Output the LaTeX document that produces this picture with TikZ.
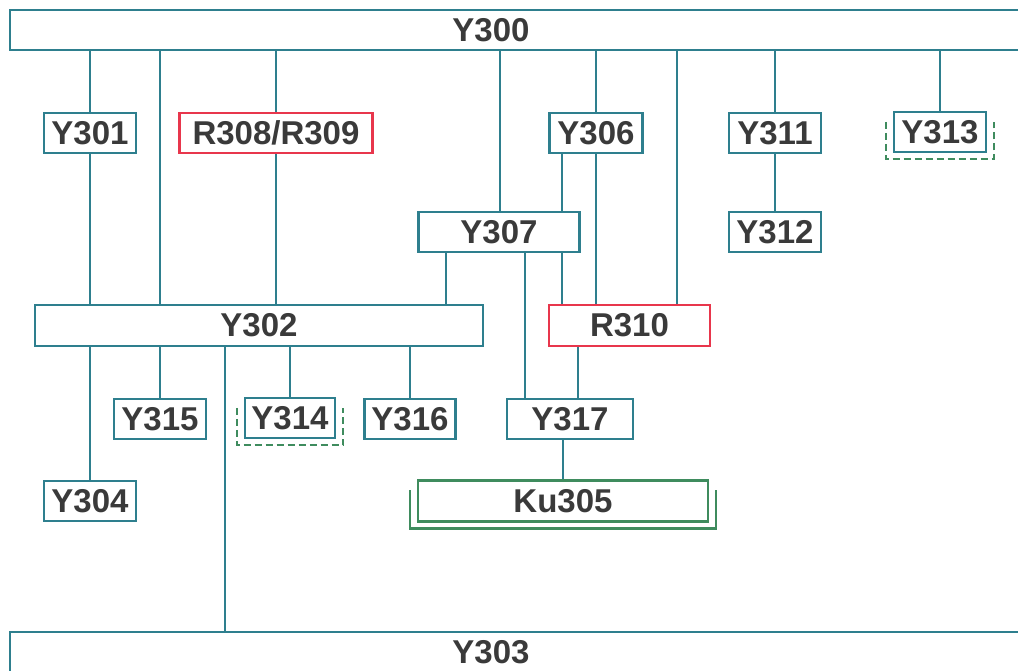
\documentclass[tikz,border=0pt]{standalone}
\usepackage{fontspec}
\setmainfont{Liberation Sans}
\usepackage{xcolor}
\usepackage{tikz}

\definecolor{linkc}{HTML}{2E7F8E}
\definecolor{redc}{HTML}{E8364C}
\definecolor{greenc}{HTML}{3F8C5E}
\definecolor{txtc}{HTML}{3A3A3A}

\newcommand{\boxfont}{\fontsize{33}{39}\selectfont\bfseries}
% green bracket under a box: #1 = extra style, #2 = node name
\newcommand{\underbracket}[2]{%
  \draw[frame, #1] ([shift={(-7,11)}]#2.north west) |- ([shift={(0,6)}]#2.south)
                   -| ([shift={(7,11)}]#2.north east);}

\begin{document}
\begin{tikzpicture}[
    x=1pt, y=-1pt,
    box/.style={draw=linkc, line width=2.2pt, fill=white, inner sep=0pt,
                minimum width=92pt, minimum height=40pt,
                font=\boxfont, text=txtc},
    redbox/.style={box, draw=redc},
    greenbox/.style={box, draw=greenc},
    % long bars, wider than the page, text pulled left
    bar/.style={box, minimum width=1040pt,
                label={[font=\boxfont, text=txtc, xshift=-39pt]center:#1}},
    link/.style={draw=linkc, line width=2.4pt},
    frame/.style={draw=greenc, line width=2.4pt},
    broken/.style={dash pattern=on 7pt off 4pt},
]
    \clip (0,0) rectangle (1018,671);

    % top and bottom bars
    \node[bar=Y300] (Y300) at (530,30) {};
    \node[bar=Y303] (Y303) at (530,652) {};

    % first row
    \node[box] (Y301) at (90,133) {Y301};
    \node[redbox, minimum width=193pt] (R308) at (276,133) {R308/R309};
    \node[box, minimum width=93pt] (Y306) at (596,133) {Y306};
    \node[box] (Y311) at (775,133) {Y311};
    \node[box] (Y313) at (940,132) {Y313};

    % second row
    \node[box, minimum width=161pt] (Y307) at (499,232) {Y307};
    \node[box] (Y312) at (775,232) {Y312};

    % third row
    \node[box, minimum width=448pt, minimum height=41pt] (Y302) at (259,325.5) {Y302};
    \node[redbox, minimum width=161pt, minimum height=41pt] (R310) at (629.5,325.5) {R310};

    % fourth row
    \node[box] (Y315) at (160,419) {Y315};
    \node[box, minimum width=90pt] (Y314) at (290,418) {Y314};
    \node[box, minimum width=91pt] (Y316) at (410,419) {Y316};
    \node[box, minimum width=126pt] (Y317) at (570,419) {Y317};

    % fifth row
    \node[box] (Y304) at (90,501) {Y304};
    \node[greenbox, minimum width=290pt, minimum height=41pt] (Ku305) at (563,501) {Ku305};

    % brackets
    \underbracket{broken}{Y313}
    \underbracket{broken}{Y314}
    \underbracket{}{Ku305}

    % drops from the top bar
    \foreach \b in {Y301, R308, Y306, Y311, Y313}
      \draw[link] (Y300.south -| \b) -- (\b.north);
    \draw[link] (Y300.south -| 500,0) -- (Y307.north -| 500,0);
    \draw[link] (Y300.south -| 160,0) -- (Y302.north -| 160,0);
    \draw[link] (Y300.south -| 677,0) -- (R310.north -| 677,0);

    % middle links
    \draw[link] (Y301.south) -- (Y302.north -| Y301);
    \draw[link] (R308.south) -- (Y302.north -| R308);
    \draw[link] (Y311.south) -- (Y312.north);
    \draw[link] (Y306.south -| 562,0) -- (Y307.north -| 562,0);
    \draw[link] (Y306.south) -- (R310.north -| Y306);
    \draw[link] (Y307.south -| 446,0) -- (Y302.north -| 446,0);
    \draw[link] (Y307.south -| 562,0) -- (R310.north -| 562,0);
    \draw[link] (Y307.south -| 525,0) -- (Y317.north -| 525,0);
    \draw[link] (R310.south -| 578,0) -- (Y317.north -| 578,0);
    \draw[link] (Y317.south -| Ku305) -- (Ku305.north);

    % drops from Y302
    \foreach \b in {Y304, Y315, Y314, Y316}
      \draw[link] (Y302.south -| \b) -- (\b.north);
    \draw[link] (Y302.south -| 225,0) -- (Y303.north -| 225,0);
\end{tikzpicture}
\end{document}
